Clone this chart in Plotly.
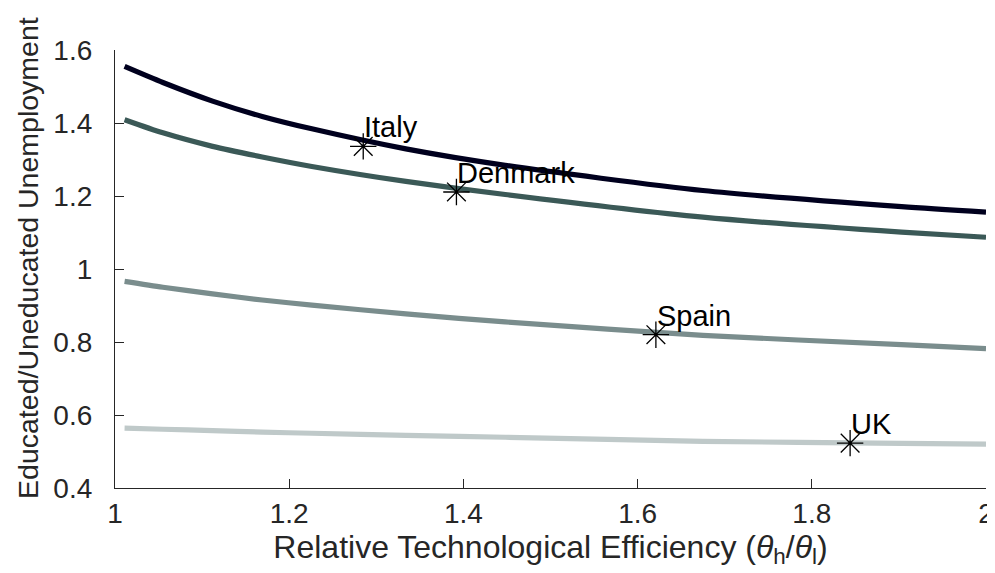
import plotly.graph_objects as go

# Relative technological efficiency grid (x)
x_grid = [1.011, 1.055, 1.112, 1.169, 1.226, 1.334, 1.448, 1.675, 1.903, 2.0]

# Four model curves (educated/uneducated unemployment ratio)
curve_1 = [1.555, 1.511, 1.460, 1.418, 1.384, 1.329, 1.284, 1.215, 1.171, 1.156]
curve_2 = [1.409, 1.373, 1.336, 1.307, 1.281, 1.240, 1.204, 1.142, 1.101, 1.087]
curve_3 = [0.966, 0.950, 0.932, 0.915, 0.901, 0.877, 0.855, 0.818, 0.793, 0.782]
curve_4 = [0.564, 0.561, 0.557, 0.553, 0.550, 0.544, 0.539, 0.528, 0.522, 0.520]
curve_colors = ["#00001e", "#3b5957", "#7a8d8d", "#bfc9c9"]

# Country observations
countries = ["Italy", "Denmark", "Spain", "UK"]
country_x = [1.285, 1.392, 1.621, 1.844]
country_y = [1.336, 1.211, 0.820, 0.523]

x_ticks = [1, 1.2, 1.4, 1.6, 1.8, 2]
x_tick_text = ["1", "1.2", "1.4", "1.6", "1.8", "2"]
y_ticks = [0.4, 0.6, 0.8, 1.0, 1.2, 1.4, 1.6]
y_tick_text = ["0.4", "0.6", "0.8", "1", "1.2", "1.4", "1.6"]

FONT = "Liberation Sans, Arial, Helvetica, sans-serif"
AX = "#262626"

fig = go.Figure()
for ys, col in zip([curve_1, curve_2, curve_3, curve_4], curve_colors):
    fig.add_trace(go.Scatter(x=x_grid, y=ys, mode="lines",
                             line=dict(color=col, width=5.2, shape="spline", smoothing=0.7),
                             showlegend=False, hoverinfo="skip"))

fig.add_trace(go.Scatter(x=country_x, y=country_y, mode="markers",
                         marker=dict(symbol="asterisk-open", size=22, color="black",
                                     line=dict(color="black", width=1.3)),
                         showlegend=False))
fig.add_trace(go.Scatter(x=country_x, y=country_y, mode="markers",
                         marker=dict(symbol="circle", size=3, color="black"),
                         showlegend=False, hoverinfo="skip"))

for name, cx, cy in zip(countries, country_x, country_y):
    fig.add_annotation(x=cx, y=cy, text=name, showarrow=False,
                       xanchor="left", yanchor="middle", xshift=-1, yshift=19,
                       font=dict(family=FONT, size=29, color="black"))

fig.add_annotation(xref="paper", yref="paper", x=-0.100, y=0.525,
                   text="Educated/Uneducated Unemployment", textangle=-90,
                   showarrow=False, xanchor="center", yanchor="middle",
                   font=dict(family=FONT, size=28.5, color=AX))

fig.update_layout(
    width=995, height=573,
    margin=dict(l=107, r=9, t=42, b=93),
    paper_bgcolor="white", plot_bgcolor="white",
    font=dict(family=FONT, color=AX),
    xaxis=dict(range=[1, 2], tickvals=x_ticks, ticktext=x_tick_text,
               ticks="inside", ticklen=9, tickcolor=AX, tickwidth=1,
               showline=True, linecolor=AX, linewidth=1.2, showgrid=False,
               zeroline=False, tickfont=dict(family=FONT, size=28, color=AX),
               title=dict(text="Relative Technological Efficiency (<i>θ</i><sub>h</sub>/<i>θ</i><sub>l</sub>)",
                          font=dict(family=FONT, size=32, color=AX), standoff=3)),
    yaxis=dict(range=[0.4, 1.6], tickvals=y_ticks, ticktext=y_tick_text,
               ticks="inside", ticklen=9, tickcolor=AX, tickwidth=1,
               showline=True, linecolor=AX, linewidth=1.2, showgrid=False,
               zeroline=False, ticklabelstandoff=16,
               tickfont=dict(family=FONT, size=28, color=AX)),
)

fig.write_html("out.html")
